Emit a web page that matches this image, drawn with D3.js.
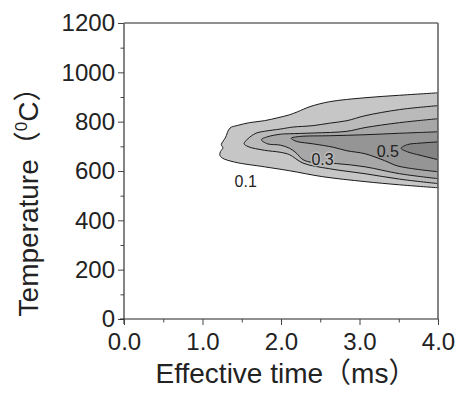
<!DOCTYPE html>
<html>
<head>
<meta charset="utf-8">
<script src="https://cdn.jsdelivr.net/npm/d3@7"></script>
<style>
  body { margin: 0; background: #fff; }
  text { font-family: "Liberation Sans", Arial, "Noto Sans CJK JP", sans-serif; fill: #222; }
</style>
</head>
<body>
<svg id="chart" width="457" height="394"></svg>
<script>
// axis ticks
const xTicks = [0, 1, 2, 3, 4];
const xMinor = [0.5, 1.5, 2.5, 3.5];
const yTicks = [0, 200, 400, 600, 800, 1000, 1200];
const yMinor = [100, 300, 500, 700, 900, 1100];

// contour levels and their boundaries
// each boundary: [effective time (ms), temperature (C)], top-right -> tip -> bottom-right
const levels = [0.1, 0.2, 0.3, 0.4, 0.5];
const c01 = [[4.0,917],[3.51,907],[3.07,897],[2.62,881],[2.37,861],[2.21,840],[2.11,828],[1.96,816],
  [1.79,804],[1.60,796],[1.45,785],[1.35,774],[1.29,734],[1.24,707],[1.26,694],[1.23,679],[1.22,666],
  [1.25,653],[1.41,636],[1.79,617],[2.11,601],[2.53,577],[3.07,557],[3.51,544],[4.0,532]];
const c02 = [[4.0,865],[3.51,849],[3.07,824],[2.84,804],[2.62,794],[2.41,784],[2.15,778],[1.99,770],
  [1.79,761],[1.68,753],[1.58,731],[1.53,711],[1.58,699],[1.79,684],[1.99,676],[2.11,666],[2.28,632],
  [2.62,609],[3.07,589],[3.51,567],[4.0,549]];
const c03 = [[4.0,812],[3.51,796],[3.07,776],[2.84,761],[2.41,754],[2.11,751],[1.99,749],[1.83,739],
  [1.75,727],[1.83,710],[1.99,705],[2.11,692],[2.19,674],[2.28,646],[2.41,634],[2.71,630],[3.07,617],
  [3.51,589],[4.0,569]];
const c04 = [[4.0,759],[3.51,753],[3.07,747],[2.62,743],[2.24,740],[2.13,733],[2.15,727],[2.21,719],
  [2.41,710],[2.67,696],[2.84,682],[3.07,670],[3.32,642],[3.49,620],[4.0,597]];
const c05 = [[4.0,718],[3.77,713],[3.61,707],[3.53,692],[3.61,678],[3.77,664],[4.0,646]];
const contours = [c01, c02, c03, c04, c05];
const fills = ["#c6c6c6", "#bababa", "#a7a7a7", "#959595", "#848484"];

// contour labels
const labelText = ["0.1", "0.3", "0.5"];
const labelTime = [1.55, 2.53, 3.36];
const labelTemp = [560, 646, 679];

const margin = { top: 23, right: 19, bottom: 75, left: 124 };
const width = 457 - margin.left - margin.right;
const height = 394 - margin.top - margin.bottom;

const svg = d3.select('#chart');
const g = svg.append('g').attr('transform', `translate(${margin.left},${margin.top})`);

const x = d3.scaleLinear().domain([0, 4]).range([0, width]);
const y = d3.scaleLinear().domain([0, 1200]).range([height, 0]);

g.append('clipPath').attr('id', 'plot-clip')
  .append('rect').attr('width', width).attr('height', height);

const line = d3.line()
  .x(d => x(d[0]))
  .y(d => y(d[1]))
  .curve(d3.curveCatmullRom.alpha(0.5));

const plot = g.append('g').attr('clip-path', 'url(#plot-clip)');
contours.forEach((c, i) => {
  plot.append('path')
    .attr('d', line(c) + 'Z')
    .attr('fill', fills[i])
    .attr('stroke', '#1a1a1a')
    .attr('stroke-width', 1);
});

labelText.forEach((t, i) => {
  plot.append('text')
    .attr('x', x(labelTime[i]))
    .attr('y', y(labelTemp[i]))
    .attr('dy', '0.36em')
    .attr('text-anchor', 'middle')
    .attr('font-size', 16)
    .attr('stroke', i === 1 ? fills[1] : 'none')
    .attr('stroke-width', 3)
    .attr('paint-order', 'stroke')
    .text(t);
});

// frame
g.append('line').attr('x1', 0).attr('x2', width).attr('y1', 0).attr('y2', 0)
  .attr('stroke', '#222').attr('stroke-width', 1.2);
g.append('line').attr('x1', width).attr('x2', width).attr('y1', 0).attr('y2', height)
  .attr('stroke', '#666').attr('stroke-width', 1.6);

// y axis
const yAxis = g.append('g')
  .call(d3.axisLeft(y).tickValues(yTicks).tickSize(6).tickPadding(3).tickFormat(d3.format('d')));
g.append('g')
  .call(d3.axisLeft(y).tickValues(yMinor).tickSize(3.5).tickFormat(''))
  .select('.domain').remove();
yAxis.select('.domain').attr('stroke', '#666').attr('stroke-width', 1.6).attr('d', `M0,0V${height + 5}`);

// x axis
const xAxis = g.append('g').attr('transform', `translate(0,${height})`)
  .call(d3.axisBottom(x).tickValues(xTicks).tickSize(6).tickPadding(8).tickFormat(d3.format('.1f')));
g.append('g').attr('transform', `translate(0,${height})`)
  .call(d3.axisBottom(x).tickValues(xMinor).tickSize(3.5).tickFormat(''))
  .select('.domain').remove();
xAxis.select('.domain').attr('stroke', '#222').attr('stroke-width', 1.2).attr('d', `M-4,0H${width}`);

g.selectAll('.tick line').attr('stroke', '#444');
g.selectAll('.tick text')
  .attr('font-family', '"Liberation Sans", Arial, sans-serif')
  .attr('font-size', 24)
  .attr('fill', '#222');

// axis titles
svg.append('text')
  .attr('x', margin.left + width / 2 + 5)
  .attr('y', 383)
  .attr('text-anchor', 'middle')
  .attr('font-size', 28)
  .text('Effective time（ms）');

const yTitle = svg.append('text')
  .attr('transform', `translate(38,${margin.top + height / 2 + 24}) rotate(-90)`)
  .attr('text-anchor', 'middle')
  .attr('font-size', 28);
yTitle.append('tspan').text('Temperature（');
yTitle.append('tspan').attr('font-size', 17).attr('dy', -11).text('0');
yTitle.append('tspan').attr('dy', 11).text('C）');
</script>
</body>
</html>
